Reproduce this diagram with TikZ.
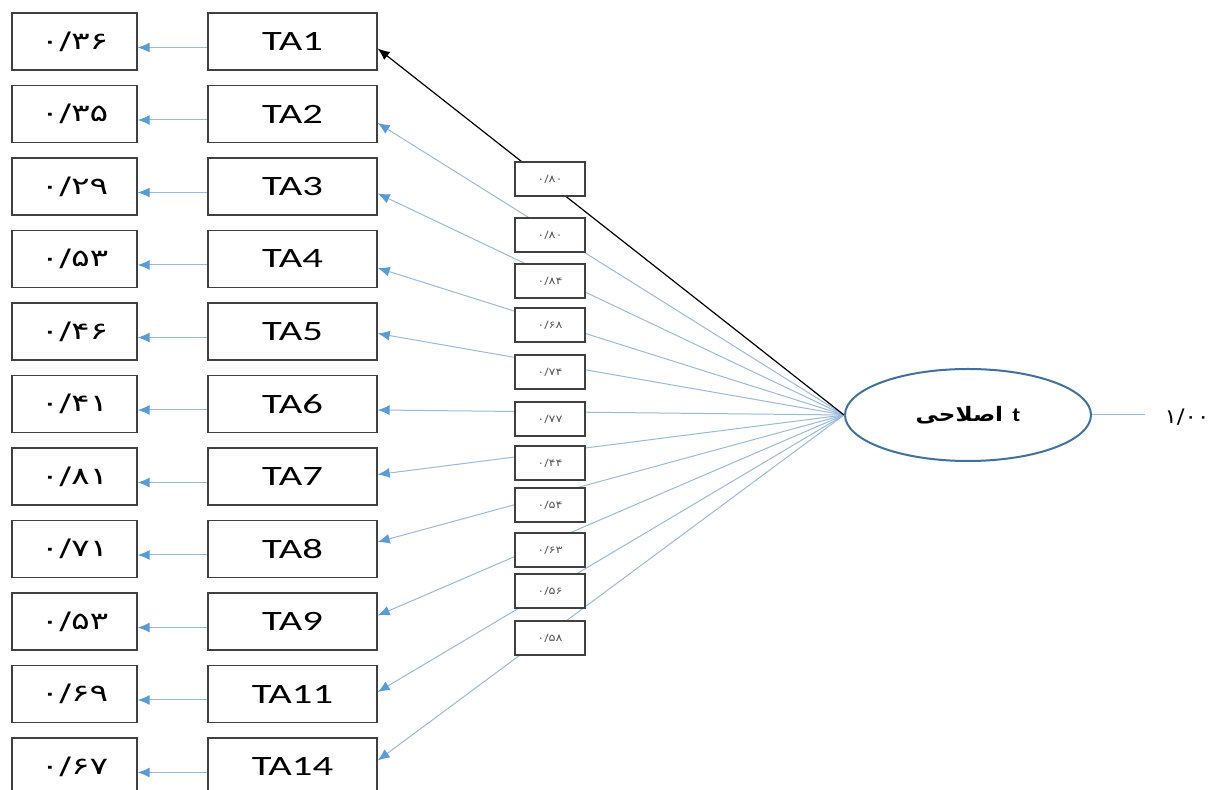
\documentclass[tikz,border=0pt]{standalone}
\usepackage{fontspec}
\usepackage{graphicx}
\setmainfont{Carlito}
\newfontfamily\farsi[Script=Arabic]{DejaVu Sans}
\TeXXeTstate=1
\usetikzlibrary{arrows.meta}
\usetikzlibrary{shapes.geometric}
\definecolor{boxgray}{HTML}{404040}
\definecolor{pathblue}{HTML}{9AB9DA}
\definecolor{tipblue}{HTML}{5B9BD5}
\definecolor{rimblue}{HTML}{41719C}
\definecolor{coefgray}{HTML}{595959}
% the labels are set a little wider than the font
\newcommand{\xwide}[2][1.45]{\scalebox{#1}[1]{#2}}
\tikzset{
    boxnode/.style = {align=center, inner sep=0pt, text centered, rectangle, draw=boxgray, line width=0.7pt, fill=white},
    ta_node/.style = {boxnode, minimum width=84.5pt, minimum height=28.5pt, font=\fontsize{14}{14}\selectfont},
    err_node/.style = {boxnode, minimum width=62.5pt, minimum height=28.5pt, font=\farsi\fontsize{12}{12}\selectfont},
    coef_node/.style = {boxnode, line width=0.6pt, minimum width=35pt, minimum height=17pt, text=coefgray, font=\farsi\fontsize{5}{5}\selectfont},
    latent_node/.style = {ellipse, draw=rimblue, line width=1pt, minimum width=123pt, minimum height=46pt, inner sep=0pt, fill=white},
    load_path/.style = {draw=pathblue, line width=0.5pt, -{Latex[length=6pt, width=5pt, color=tipblue]}}
}

\begin{document}
\begin{tikzpicture}[x=0.5pt, y=-0.5pt]
    \useasboundingbox (0,0) rectangle (1216,790);

    \node [latent_node] (eta) at (968,415) {\xwide[1.15]{{\farsi\bfseries\beginR اصلاحی\endR}\hspace{4pt}{\bfseries t}}};
    \coordinate (etaend) at (1145,415);
    \draw [draw=pathblue, line width=0.5pt] (eta.east) -- (etaend);
    \node [font=\farsi\fontsize{10}{10}\selectfont] (var) at (1187,417) {\xwide[1.15]{۱/۰۰}};

    % indicators, errors and loadings
    \foreach \i/\ta/\err/\dy in {1/1/۳۶/7, 2/2/۳۵/9, 3/3/۲۹/7, 4/4/۵۳/9, 5/5/۴۶/2, 6/6/۴۱/6,
                                7/7/۸۱/-2, 8/8/۷۱/-7, 9/9/۵۳/-6, 10/11/۶۹/-2, 11/14/۶۷/-6} {
        \pgfmathsetmacro{\rowy}{41.5+(\i-1)*72.5}
        \node [ta_node] (ta\ta) at (292.5,\rowy) {\xwide{TA\ta}};
        \node [err_node] (err\ta) at (74.5,\rowy) {\xwide{۰/\err}};
        \draw [load_path] ([yshift=-3pt]ta\ta.west) -- ([yshift=-3pt]err\ta.east);
        \ifnum\i>1
            \draw [load_path] (eta.west) -- ([yshift=-\dy*0.5pt]ta\ta.east);
        \fi
    }
    \draw [draw=black, line width=0.6pt, -{Latex[length=6pt, width=5pt]}] (eta.west) -- ([yshift=-3.5pt]ta1.east);

    % loading values
    \foreach \n/\y/\c in {1/179/۸۰, 2/235/۸۰, 3/281/۸۴, 4/325/۶۸, 5/372/۷۴, 6/419/۷۷,
                          7/463/۴۴, 8/505/۵۴, 9/550/۶۳, 10/591/۵۶, 11/638/۵۸} {
        \node [coef_node] (coef\n) at (550,\y) {\xwide[1.3]{۰/\c}};
    }
\end{tikzpicture}
\end{document}
